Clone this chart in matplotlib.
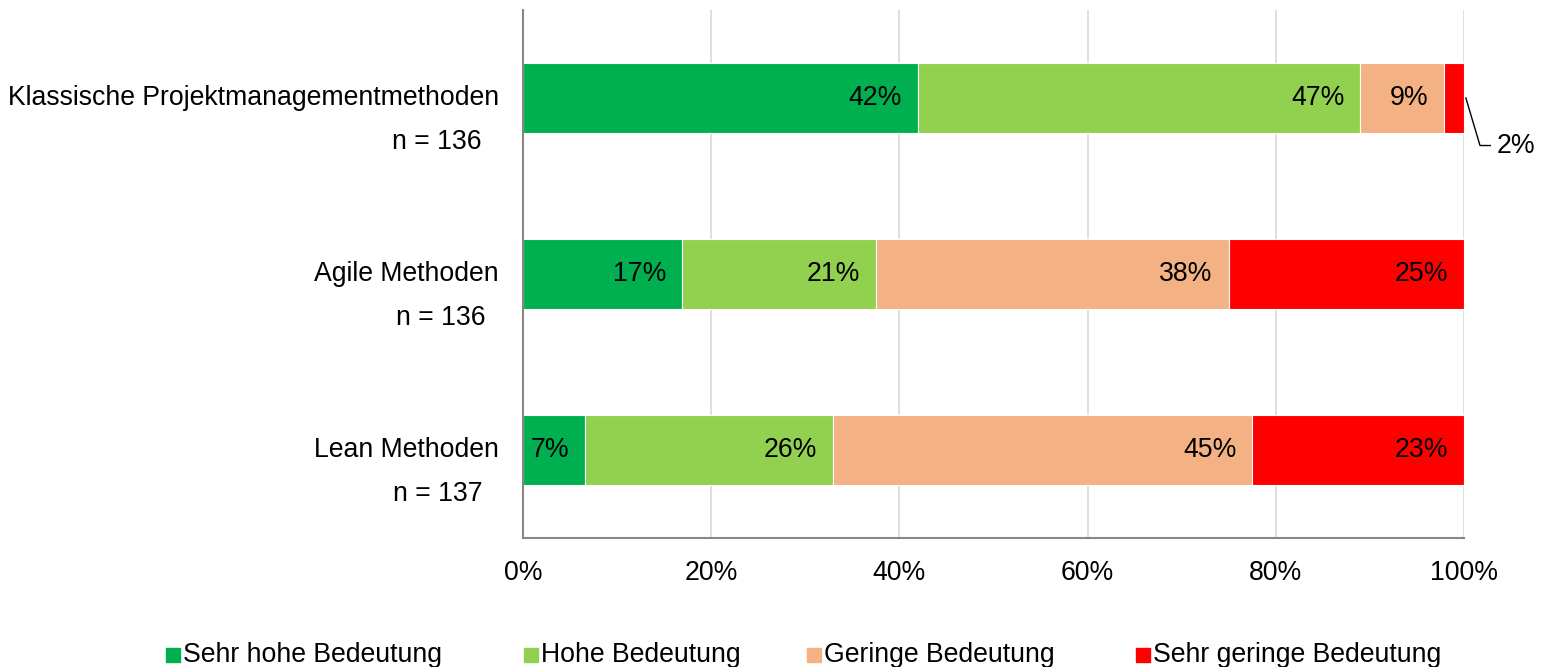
import matplotlib.pyplot as plt
import matplotlib.transforms as mtransforms
import numpy as np

plt.rcParams['font.family'] = ['Liberation Sans', 'DejaVu Sans']

# ---------- Daten ----------
categories = ["Klassische Projektmanagementmethoden", "Agile Methoden", "Lean Methoden"]
n_labels = ["n = 136", "n = 136", "n = 137"]
series = ["Sehr hohe Bedeutung", "Hohe Bedeutung", "Geringe Bedeutung", "Sehr geringe Bedeutung"]
sehr_hoch = [42.0, 16.9, 6.6]
hoch = [47.0, 20.6, 26.3]
gering = [8.9, 37.5, 44.6]
sehr_gering = [2.1, 25.0, 22.5]
label_text = [["42%", "47%", "9%", "2%"],
              ["17%", "21%", "38%", "25%"],
              ["7%", "26%", "45%", "23%"]]
colors = ["#00B050", "#92D050", "#F4B183", "#FF0000"]

values = np.array([sehr_hoch, hoch, gering, sehr_gering])
FS = 19.2

fig = plt.figure(figsize=(15.5, 6.67), dpi=100)
ax = fig.add_axes([523 / 1550, 1 - 538 / 667, (1464 - 523) / 1550, (538 - 10) / 667])

y = np.arange(len(categories))
left = np.zeros(len(categories))
for i, name in enumerate(series):
    ax.barh(y, values[i], left=left, height=0.4, color=colors[i],
            edgecolor="white", linewidth=0.8, label=name, zorder=3)
    for j in range(len(categories)):
        end = left[j] + values[i][j]
        if values[i][j] >= 4:
            ax.annotate(label_text[j][i], xy=(end, y[j]), xytext=(-11.5, 0),
                        textcoords="offset points", ha="right", va="center",
                        fontsize=FS, color="black", zorder=4)
    left += values[i]

# kleiner Wert mit Fuehrungslinie
ax.plot([100.2, 101.7, 102.8], [0.0, 0.27, 0.27], color="black", lw=1.0,
        clip_on=False, zorder=5)
ax.text(103.5, 0.27, label_text[0][3], ha="left", va="center", fontsize=FS)

ax.set_xlim(0, 100)
ax.set_ylim(2.5, -0.5)
ax.set_xticks([0, 20, 40, 60, 80, 100])
ax.set_xticklabels(["0%", "20%", "40%", "60%", "80%", "100%"], fontsize=FS)
ax.tick_params(axis="x", length=0, pad=16)
ax.set_yticks([])
ax.grid(axis="x", color="#D9D9D9", lw=1.2, zorder=0)
for s in ["top", "right"]:
    ax.spines[s].set_visible(False)
for s in ["left", "bottom"]:
    ax.spines[s].set_color("#868686")
    ax.spines[s].set_linewidth(1.5)
    ax.spines[s].set_zorder(6)

# Kategorie-Beschriftungen (zweizeilig)
n_right = [481, 485, 483]
trans = mtransforms.blended_transform_factory(fig.transFigure, ax.transData)
for j, cat in enumerate(categories):
    ax.text(499 / 1550, y[j], cat, transform=trans, ha="right", va="center", fontsize=FS)
    ax.text(n_right[j] / 1550, y[j] + 0.25, n_labels[j], transform=trans, ha="right",
            va="center", fontsize=FS)

# Legende
handles, labels = ax.get_legend_handles_labels()
leg_x = [166, 524, 807, 1136]
for h, lab, lx in zip(handles, labels, leg_x):
    fig.patches.append(plt.Rectangle((lx / 1550, 1 - 662 / 667), 14 / 1550, 14 / 667,
                                     transform=fig.transFigure, color=h.patches[0].get_facecolor(),
                                     figure=fig))
    fig.text((lx + 17) / 1550, 1 - 655 / 667, lab, ha="left", va="center", fontsize=FS)

fig.savefig("out.png", dpi=100)
